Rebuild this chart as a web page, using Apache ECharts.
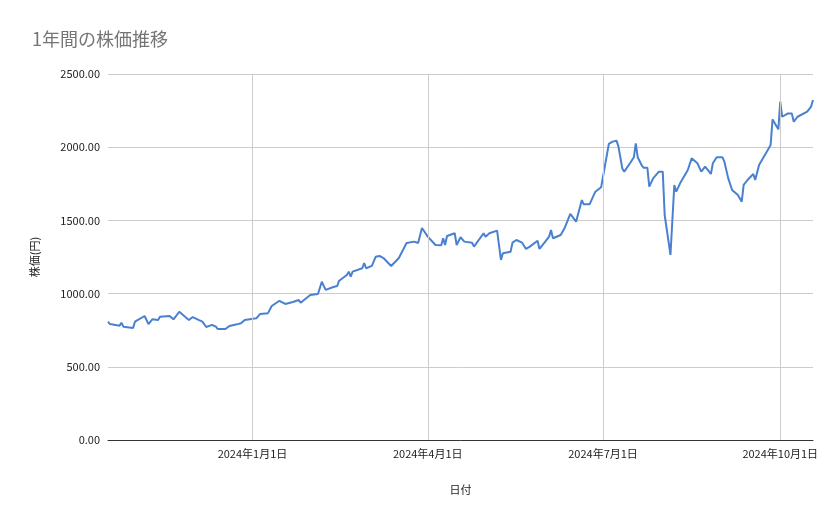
<!DOCTYPE html>
<html>
<head>
<meta charset="utf-8">
<script src="https://cdn.jsdelivr.net/npm/echarts@6/dist/echarts.min.js"></script>
<style>
  html, body { margin: 0; padding: 0; background: #fff; }
  #chart { width: 839px; height: 519px; }
</style>
</head>
<body>
<div id="chart"></div>
<script>
const dates = [
  "2023-10-18","2023-10-19","2023-10-24","2023-10-25","2023-10-26","2023-10-31","2023-11-01","2023-11-02",
  "2023-11-06","2023-11-08","2023-11-10","2023-11-13","2023-11-14","2023-11-19","2023-11-21","2023-11-24",
  "2023-11-27","2023-11-29","2023-12-01","2023-12-04","2023-12-06","2023-12-08","2023-12-11","2023-12-13",
  "2023-12-14","2023-12-18","2023-12-20","2023-12-24","2023-12-26","2023-12-28","2024-01-03","2024-01-05",
  "2024-01-09","2024-01-11","2024-01-15","2024-01-18","2024-01-19","2024-01-22","2024-01-25","2024-01-26",
  "2024-01-31","2024-02-01","2024-02-04","2024-02-06","2024-02-08","2024-02-12","2024-02-14","2024-02-15",
  "2024-02-19","2024-02-20","2024-02-21","2024-02-22","2024-02-27","2024-02-28","2024-02-29","2024-03-03",
  "2024-03-05","2024-03-07","2024-03-09","2024-03-13","2024-03-17","2024-03-21","2024-03-25","2024-03-27",
  "2024-03-29","2024-04-01","2024-04-05","2024-04-08","2024-04-09","2024-04-10","2024-04-11","2024-04-15",
  "2024-04-16","2024-04-18","2024-04-20","2024-04-24","2024-04-25","2024-04-30","2024-05-01","2024-05-03",
  "2024-05-07","2024-05-09","2024-05-10","2024-05-14","2024-05-15","2024-05-17","2024-05-20","2024-05-22",
  "2024-05-24","2024-05-28","2024-05-29","2024-06-01","2024-06-03","2024-06-04","2024-06-05","2024-06-09",
  "2024-06-11","2024-06-14","2024-06-17","2024-06-20","2024-06-21","2024-06-24","2024-06-27","2024-06-30",
  "2024-07-01","2024-07-04","2024-07-06","2024-07-08","2024-07-09","2024-07-11","2024-07-12","2024-07-15",
  "2024-07-17","2024-07-18","2024-07-19","2024-07-21","2024-07-22","2024-07-24","2024-07-25","2024-07-27",
  "2024-07-30","2024-07-31","2024-08-01","2024-08-02","2024-08-05","2024-08-07","2024-08-08","2024-08-10",
  "2024-08-14","2024-08-15","2024-08-16","2024-08-19","2024-08-21","2024-08-23","2024-08-26","2024-08-27",
  "2024-08-29","2024-09-01","2024-09-02","2024-09-04","2024-09-05","2024-09-06","2024-09-09","2024-09-11",
  "2024-09-12","2024-09-14","2024-09-17","2024-09-18","2024-09-20","2024-09-24","2024-09-26","2024-09-27",
  "2024-09-30","2024-10-01","2024-10-02","2024-10-03","2024-10-05","2024-10-07","2024-10-08","2024-10-10",
  "2024-10-15","2024-10-17","2024-10-18"
];
const prices = [
  808,792,781,801,774,765,808,799,
  847,792,824,820,842,847,824,876,
  842,820,840,820,808,772,786,774,
  758,758,779,790,797,820,831,861,
  865,915,951,929,922,943,956,938,
  990,977,997,1081,1025,1045,1052,1088,
  1127,1150,1115,1150,1173,1209,1173,1189,
  1252,1257,1243,1189,1243,1346,1355,1346,
  1448,1389,1332,1330,1378,1332,1393,1412,
  1332,1385,1355,1348,1321,1412,1389,1412,
  1430,1230,1275,1286,1348,1366,1348,1305,
  1321,1361,1305,1355,1389,1434,1378,1400,
  1446,1544,1491,1639,1610,1610,1696,1726,
  1731,2022,2038,2045,2004,1855,1833,1890,
  1931,2026,1931,1878,1860,1860,1731,1787,
  1833,1822,1833,1537,1264,1742,1696,1753,
  1844,1833,1924,1890,1833,1867,1817,1890,
  1931,1931,1901,1787,1776,1708,1673,1628,
  1742,1776,1817,1776,1878,1969,2015,2190,
  2122,2311,2208,2197,2231,2231,2174,2208,
  2243,2277,2322
];
const xTicks = ["2024-01-01","2024-04-01","2024-07-01","2024-10-01"];

const font = "'Noto Sans CJK JP', 'Noto Sans', sans-serif";
const chart = echarts.init(document.getElementById("chart"));
const ts = (d) => +new Date(d + "T00:00:00");
const jpDate = (v) => { const d = new Date(v); return d.getFullYear() + "年" + (d.getMonth() + 1) + "月" + d.getDate() + "日"; };

chart.setOption({
  animation: false,
  title: {
    text: "1年間の株価推移",
    left: 27, top: 25,
    textStyle: { fontFamily: font, fontSize: 18, fontWeight: "normal", color: "#757575" },
  },
  grid: { left: 108, right: 26, top: 74, bottom: 79 },
  xAxis: {
    type: "time",
    min: ts("2023-10-18"),
    max: ts("2024-10-18"),
    name: "日付", nameLocation: "middle", nameGap: 44,
    nameTextStyle: { fontFamily: font, fontSize: 11, color: "#222" },
    axisLine: { lineStyle: { color: "#333" } },
    axisTick: { show: false },
    axisLabel: { show: false },
    splitLine: { show: false },
  },
  yAxis: {
    type: "value", min: 0, max: 2500, interval: 500,
    name: "株価(円)", nameLocation: "middle", nameGap: 68, nameRotate: 90,
    nameTextStyle: { fontFamily: font, fontSize: 11, color: "#222" },
    axisLine: { show: false }, axisTick: { show: false },
    axisLabel: { fontFamily: font, fontSize: 11, color: "#222", formatter: (v) => v.toFixed(2) },
    splitLine: { lineStyle: { color: "#cccccc" } },
  },
  series: [{
    type: "line",
    data: dates.map((d, i) => [d, prices[i]]),
    showSymbol: false,
    lineStyle: { color: "#4a80d0", width: 2 },
    itemStyle: { color: "#4a80d0" },
    markLine: {
      silent: true, symbol: "none",
      label: {
        show: true, position: "start", distance: 8,
        fontFamily: font, fontSize: 11, color: "#222",
        formatter: (p) => jpDate(p.value),
      },
      lineStyle: { color: "#cccccc", type: "solid", width: 1 },
      data: xTicks.map((d) => ({ xAxis: ts(d) })),
    },
  }],
});
</script>
</body>
</html>
